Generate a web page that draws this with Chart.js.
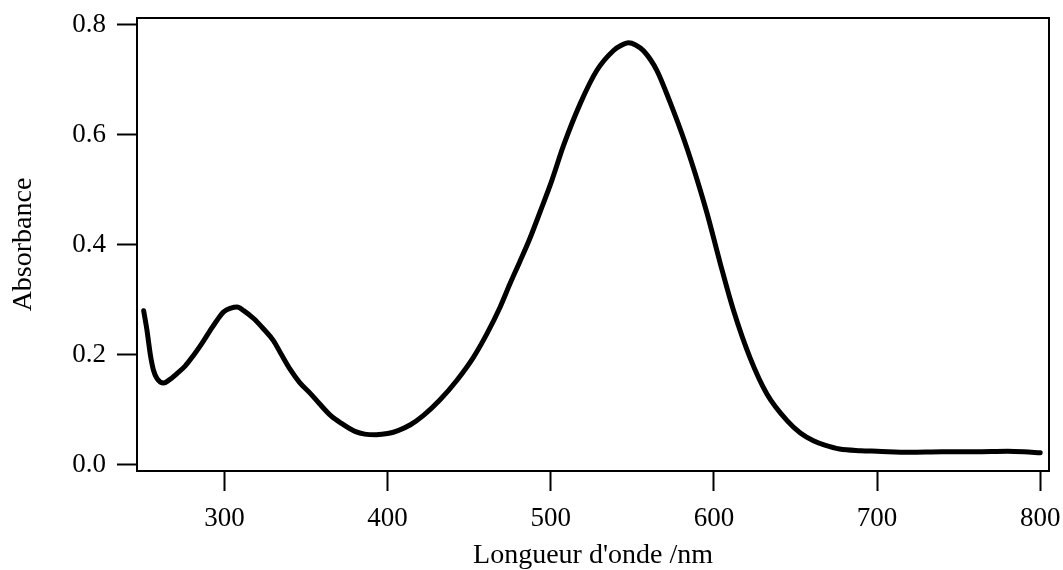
<!DOCTYPE html>
<html>
<head>
<meta charset="utf-8">
<script src="https://cdn.jsdelivr.net/npm/chart.js@4/dist/chart.umd.min.js"></script>
<style>
  html, body { margin: 0; padding: 0; background: #fff; }
  #wrap { width: 1063px; height: 570px; }
</style>
</head>
<body>
<div id="wrap"><canvas id="c" width="1063" height="570"></canvas></div>
<script>
// Wavelength (nm) and absorbance
const wavelengths = [
  250.5, 252.5, 254.6, 256.5, 258.7, 262.7, 266, 270.9, 276, 281,
  286, 291.4, 295.5, 299.5, 304, 307.7, 312, 317.9, 324, 330,
  335, 340.4, 346, 352.6, 358, 365, 372, 380, 386, 393,
  400, 406, 414, 422, 432, 442.5, 452.7, 461, 469, 475,
  481.3, 487, 493.5, 500.7, 507.8, 518, 528.3, 538.5, 543, 547.7,
  552, 557, 565, 573, 582.4, 589, 596, 604, 612, 622,
  632.5, 645, 653, 661, 668, 677, 690, 700, 720, 740,
  760, 780, 790, 800
];
const absorbance = [
  0.280, 0.245, 0.200, 0.172, 0.157, 0.149, 0.154, 0.166, 0.180, 0.199,
  0.220, 0.245, 0.263, 0.278, 0.285, 0.287, 0.280, 0.266, 0.247, 0.226,
  0.200, 0.173, 0.150, 0.130, 0.112, 0.090, 0.075, 0.061, 0.056, 0.055,
  0.057, 0.062, 0.073, 0.090, 0.118, 0.154, 0.196, 0.239, 0.287, 0.329,
  0.371, 0.410, 0.460, 0.517, 0.580, 0.656, 0.717, 0.753, 0.762, 0.767,
  0.763, 0.752, 0.717, 0.660, 0.585, 0.525, 0.455, 0.365, 0.281, 0.196,
  0.129, 0.080, 0.058, 0.044, 0.036, 0.029, 0.026, 0.025, 0.023, 0.024,
  0.024, 0.025, 0.024, 0.022
];
const xTicks = [300, 400, 500, 600, 700, 800];
const yTicks = [0.0, 0.2, 0.4, 0.6, 0.8];
const xTitle = "Longueur d'onde /nm";
const yTitle = "Absorbance";

const points = wavelengths.map((w, i) => ({ x: w, y: absorbance[i] }));

const FONT = "'Liberation Serif', 'Times New Roman', serif";

const framePlugin = {
  id: 'frame',
  afterDraw(chart) {
    const a = chart.chartArea;
    const ctx = chart.ctx;
    ctx.save();
    ctx.strokeStyle = '#000';
    ctx.lineWidth = 2;
    ctx.strokeRect(a.left, a.top, a.right - a.left, a.bottom - a.top);
    ctx.restore();
  }
};

new Chart(document.getElementById('c'), {
  type: 'line',
  data: {
    datasets: [{
      data: points,
      borderColor: '#000',
      borderWidth: 5,
      pointRadius: 0,
      fill: false,
      cubicInterpolationMode: 'monotone',
      borderCapStyle: 'round',
      borderJoinStyle: 'round'
    }]
  },
  options: {
    responsive: false,
    animation: false,
    layout: { padding: { top: 18, right: 14, left: 0, bottom: 0 } },
    plugins: { legend: { display: false }, tooltip: { enabled: false } },
    scales: {
      x: {
        type: 'linear',
        min: 246.4,
        max: 805.4,
        afterBuildTicks(scale) { scale.ticks = xTicks.map(v => ({ value: v })); },
        afterFit(scale) { scale.height = 99; scale.paddingLeft = 0; scale.paddingRight = 0; },
        grid: { display: true, drawOnChartArea: false, drawTicks: true, tickLength: 20, tickWidth: 2, tickColor: '#000' },
        border: { display: false },
        ticks: {
          color: '#000',
          font: { family: FONT, size: 27 },
          padding: 12,
          maxRotation: 0,
          callback: v => String(v)
        },
        title: {
          display: true,
          text: xTitle,
          color: '#000',
          font: { family: FONT, size: 28, lineHeight: 1 },
          padding: { top: 0, bottom: 0 }
        }
      },
      y: {
        type: 'linear',
        min: -0.011,
        max: 0.812,
        afterBuildTicks(scale) { scale.ticks = yTicks.map(v => ({ value: v })); },
        afterFit(scale) { scale.width = 137; scale.paddingTop = 0; scale.paddingBottom = 0; },
        grid: { display: true, drawOnChartArea: false, drawTicks: true, tickLength: 20, tickWidth: 2, tickColor: '#000' },
        border: { display: false },
        ticks: {
          color: '#000',
          font: { family: FONT, size: 27 },
          padding: 11,
          callback: v => Number(v).toFixed(1)
        },
        title: {
          display: true,
          text: yTitle,
          color: '#000',
          font: { family: FONT, size: 28, lineHeight: 1 },
          padding: { top: 10, bottom: 0 }
        }
      }
    }
  },
  plugins: [framePlugin]
});
</script>
</body>
</html>
